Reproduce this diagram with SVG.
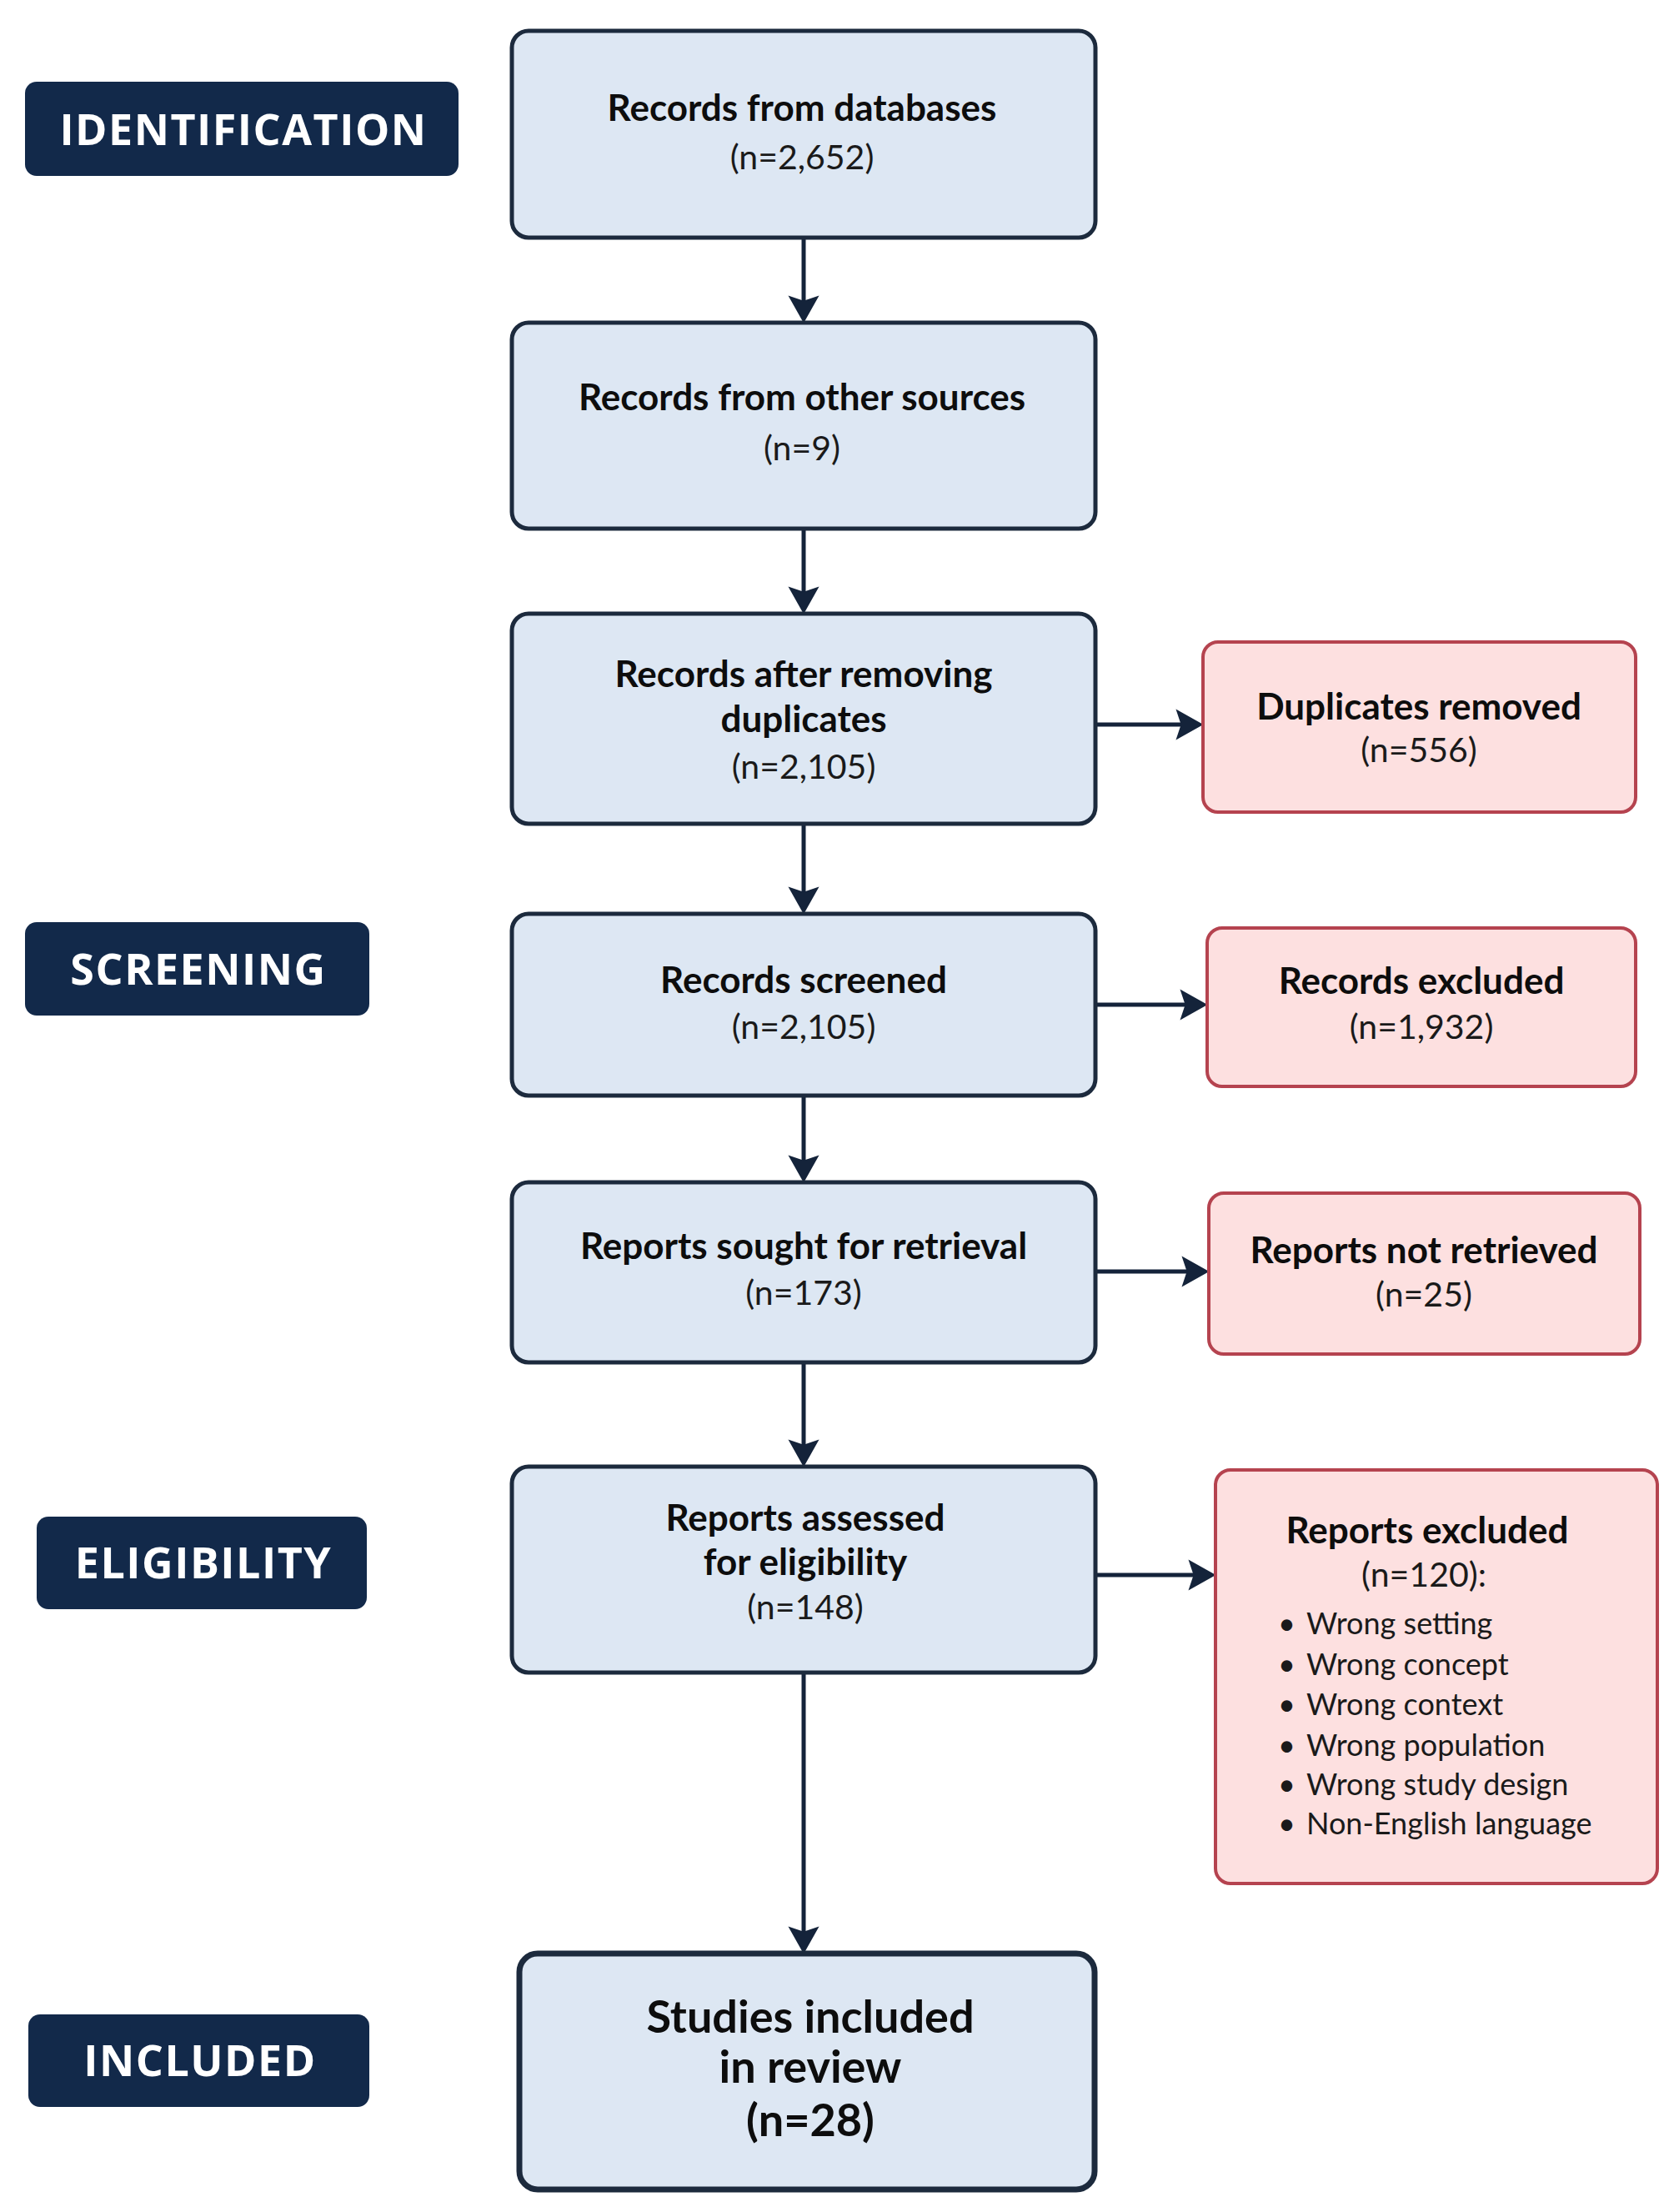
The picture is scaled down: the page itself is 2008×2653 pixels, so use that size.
<svg xmlns="http://www.w3.org/2000/svg" width="2008" height="2653" viewBox="0 0 2008 2653">
<defs>
<style>
.bg{fill:#ffffff}
.stage rect{fill:#12294a}
.stage text{font-family:"Open Sans","DejaVu Sans",sans-serif;font-weight:700;font-size:52px;fill:#ffffff;text-anchor:middle;letter-spacing:1.5px}
.blue rect{fill:#dde7f3;stroke:#1c2a3d;stroke-width:5}
.red rect{fill:#fde0e0;stroke:#b5434f;stroke-width:4}
.t{font-family:Lato,"Open Sans",sans-serif;font-weight:700;font-size:44px;fill:#0d0d0d;text-anchor:middle}
.n{font-family:Lato,"Open Sans",sans-serif;font-weight:400;font-size:41px;fill:#1a1a1a;text-anchor:middle}
.b{font-family:Lato,"Open Sans",sans-serif;font-weight:400;font-size:36px;fill:#1a1a1a}
.big{font-family:Lato,"Open Sans",sans-serif;font-weight:700;font-size:54px;fill:#0d0d0d;text-anchor:middle}
.conn path{fill:none;stroke:#14233a;stroke-width:5}
</style>
<marker id="ah" markerUnits="userSpaceOnUse" markerWidth="34" markerHeight="38" refX="17" refY="18" orient="auto" viewBox="0 0 33 36">
<path d="M0,0 L32,18 L0,36 L6,18 Z" fill="#14233a"/>
</marker>
</defs>
<rect class="bg" x="0" y="0" width="2008" height="2653"/>

<g id="stage-identification" class="stage">
<rect x="30" y="98" width="520" height="113" rx="14"/>
<text x="292" y="174">IDENTIFICATION</text>
</g>
<g id="stage-screening" class="stage">
<rect x="30" y="1106" width="413" height="112" rx="14"/>
<text x="238" y="1181">SCREENING</text>
</g>
<g id="stage-eligibility" class="stage">
<rect x="44" y="1819" width="396" height="111" rx="14"/>
<text x="244" y="1893">ELIGIBILITY</text>
</g>
<g id="stage-included" class="stage">
<rect x="34" y="2416" width="409" height="111" rx="14"/>
<text x="240" y="2490">INCLUDED</text>
</g>

<g id="connectors" class="conn">
<path d="M964,286 V372" marker-end="url(#ah)"/>
<path d="M964,635 V721" marker-end="url(#ah)"/>
<path d="M964,989 V1081" marker-end="url(#ah)"/>
<path d="M964,1315 V1403" marker-end="url(#ah)"/>
<path d="M964,1635 V1744" marker-end="url(#ah)"/>
<path d="M964,2007 V2328" marker-end="url(#ah)"/>
<path d="M1315,869 H1428" marker-end="url(#ah)"/>
<path d="M1315,1205 H1433" marker-end="url(#ah)"/>
<path d="M1315,1525 H1435" marker-end="url(#ah)"/>
<path d="M1315,1889 H1443" marker-end="url(#ah)"/>
</g>

<g id="node-databases" class="blue">
<rect x="614" y="37" width="700" height="248" rx="20"/>
<text class="t" x="962" y="145">Records from databases</text>
<text class="n" x="962" y="203">(n=2,652)</text>
</g>
<g id="node-other-sources" class="blue">
<rect x="614" y="387" width="700" height="247" rx="20"/>
<text class="t" x="962" y="492">Records from other sources</text>
<text class="n" x="962" y="552">(n=9)</text>
</g>
<g id="node-after-duplicates" class="blue">
<rect x="614" y="736" width="700" height="252" rx="20"/>
<text class="t" x="964" y="824">Records after removing</text>
<text class="t" x="964" y="878">duplicates</text>
<text class="n" x="964" y="934">(n=2,105)</text>
</g>
<g id="node-screened" class="blue">
<rect x="614" y="1096" width="700" height="218" rx="20"/>
<text class="t" x="964" y="1191">Records screened</text>
<text class="n" x="964" y="1246">(n=2,105)</text>
</g>
<g id="node-sought" class="blue">
<rect x="614" y="1418" width="700" height="216" rx="20"/>
<text class="t" x="964" y="1510">Reports sought for retrieval</text>
<text class="n" x="964" y="1565">(n=173)</text>
</g>
<g id="node-assessed" class="blue">
<rect x="614" y="1759" width="700" height="247" rx="20"/>
<text class="t" x="966" y="1836">Reports assessed</text>
<text class="t" x="966" y="1889">for eligibility</text>
<text class="n" x="966" y="1942">(n=148)</text>
</g>
<g id="node-included" class="blue">
<rect x="623" y="2343" width="690" height="283" rx="22" style="stroke-width:7"/>
<text class="big" x="972" y="2438">Studies included</text>
<text class="big" x="972" y="2498">in review</text>
<text class="big" x="972" y="2562">(n=28)</text>
</g>

<g id="node-duplicates-removed" class="red">
<rect x="1443" y="770" width="519" height="204" rx="18"/>
<text class="t" x="1702" y="863">Duplicates removed</text>
<text class="n" x="1702" y="914">(n=556)</text>
</g>
<g id="node-records-excluded" class="red">
<rect x="1448" y="1113" width="514" height="190" rx="18"/>
<text class="t" x="1705" y="1192">Records excluded</text>
<text class="n" x="1705" y="1246">(n=1,932)</text>
</g>
<g id="node-not-retrieved" class="red">
<rect x="1450" y="1431" width="517" height="193" rx="18"/>
<text class="t" x="1708" y="1515">Reports not retrieved</text>
<text class="n" x="1708" y="1567">(n=25)</text>
</g>
<g id="node-reports-excluded" class="red">
<rect x="1458" y="1763" width="530" height="496" rx="18"/>
<text class="t" x="1712" y="1851">Reports excluded</text>
<text class="n" x="1708" y="1903">(n=120):</text>
<text class="b" x="1533" y="1960">•</text><text class="b" x="1567" y="1960">Wrong setting</text>
<text class="b" x="1533" y="2009">•</text><text class="b" x="1567" y="2009">Wrong concept</text>
<text class="b" x="1533" y="2057">•</text><text class="b" x="1567" y="2057">Wrong context</text>
<text class="b" x="1533" y="2106">•</text><text class="b" x="1567" y="2106">Wrong population</text>
<text class="b" x="1533" y="2153">•</text><text class="b" x="1567" y="2153">Wrong study design</text>
<text class="b" x="1533" y="2200">•</text><text class="b" x="1567" y="2200">Non-English language</text>
</g>
</svg>
